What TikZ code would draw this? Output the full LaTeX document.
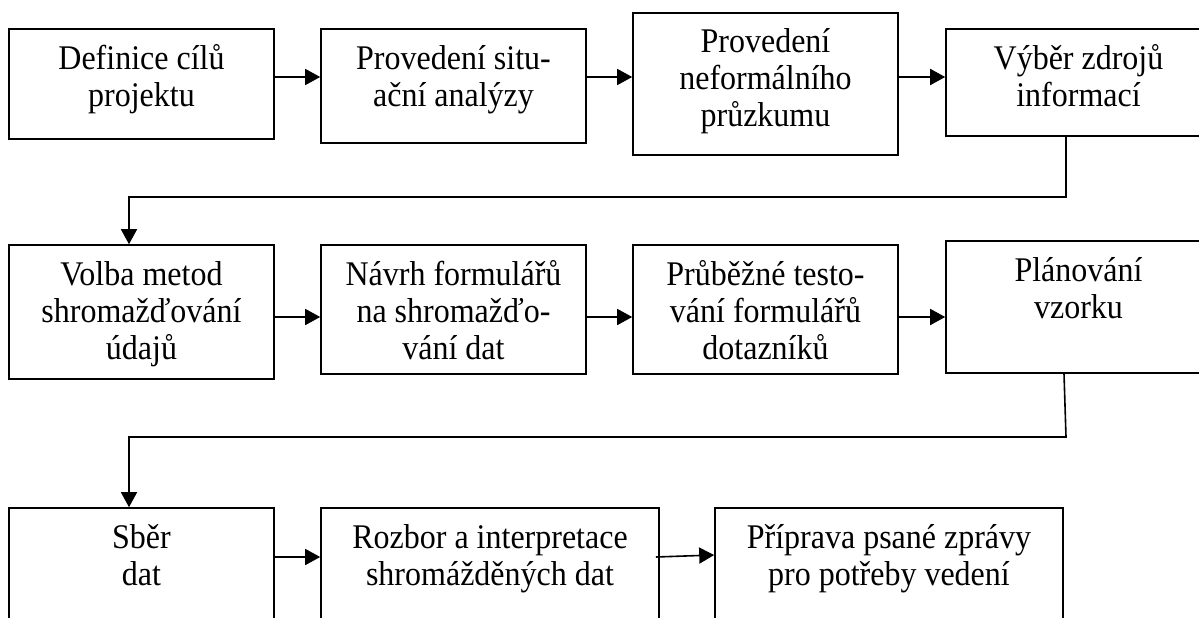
\documentclass[tikz,border=0pt]{standalone}
\usepackage{fontspec}
\usepackage{graphicx}
\setmainfont{Liberation Serif}
\usetikzlibrary{arrows.meta}

% box caption: centred lines, slightly tall letters
\newcommand{\boxlines}[1]{\scalebox{1}[1.08]{\begin{tabular}{@{}c@{}}#1\end{tabular}}}

\begin{document}
\begin{tikzpicture}[x=1pt,y=-1pt,
  box/.style={draw, line width=1.6pt, inner sep=0pt, minimum width=265pt},
  txt/.style={anchor=north, inner sep=0pt,
    font=\fontsize{32}{34.3}\selectfont},
  arr/.style={line width=1.6pt, -{Triangle[length=15pt,width=16pt]}}]
\useasboundingbox (0,0) rectangle (1199,618);
\clip (0,0) rectangle (1199,618);

% first row
\node[box, minimum height=110pt] (b1) at (141.5,84) {};
\node[box, minimum height=114pt] (b2) at (453.5,86) {};
\node[box, minimum height=142pt] (b3) at (765.5,84) {};
\node[box, minimum height=107pt] (b4) at (1078.5,82.5) {};

% second row
\node[box, minimum height=134pt] (b5) at (141.5,312) {};
\node[box, minimum height=129pt] (b6) at (453.5,309.5) {};
\node[box, minimum height=129pt] (b7) at (765.5,309.5) {};
\node[box, minimum height=132pt] (b8) at (1078.5,307) {};

% third row
\node[box, minimum height=140pt] (b9) at (141.5,578) {};
\node[box, minimum height=140pt, minimum width=338pt] (b10) at (490,578) {};
\node[box, minimum height=140pt, minimum width=348pt] (b11) at (889,578) {};

% captions
\node[txt] (t1) at ([yshift=-15.1pt]b1.north) {\boxlines{Definice cílů\\projektu}};
\node[txt] (t2) at ([yshift=-15.1pt]b2.north) {\boxlines{Provedení situ-\\ační analýzy}};
\node[txt] (t3) at ([yshift=-14.1pt]b3.north) {\boxlines{Provedení\\neformálního\\průzkumu}};
\node[txt] (t4) at ([yshift=-15.1pt]b4.north) {\boxlines{Výběr zdrojů\\informací}};
\node[txt] (t5) at ([yshift=-15.1pt]b5.north) {\boxlines{Volba metod\\shromažďování\\údajů}};
\node[txt] (t6) at ([yshift=-15.1pt]b6.north) {\boxlines{Návrh formulářů\\na shromažďo-\\vání dat}};
\node[txt] (t7) at ([yshift=-15.1pt]b7.north) {\boxlines{Průběžné testo-\\vání formulářů\\dotazníků}};
\node[txt] (t8) at ([yshift=-15.1pt]b8.north) {\boxlines{Plánování\\vzorku}};
\node[txt] (t9) at ([yshift=-15.1pt]b9.north) {\boxlines{Sběr\\dat}};
\node[txt] (t10) at ([yshift=-15.1pt]b10.north) {\boxlines{Rozbor a interpretace\\shromážděných dat}};
\node[txt] (t11) at ([yshift=-15.1pt]b11.north) {\boxlines{Příprava psané zprávy\\pro potřeby vedení}};

% heights of the horizontal arrows and bends of the return lines
\coordinate (r1) at (0,77);
\coordinate (r2) at (0,317);
\coordinate (r3) at (0,557);
\coordinate (r3b) at (0,555);
\coordinate (k1) at (1066,197);
\coordinate (k2) at (129,197);
\coordinate (k3) at (1066,437);
\coordinate (k4) at (129,437);

% arrows within rows
\draw[arr] (b1.east |- r1) -- (b2.west |- r1);
\draw[arr] (b2.east |- r1) -- (b3.west |- r1);
\draw[arr] (b3.east |- r1) -- (b4.west |- r1);
\draw[arr] (b5.east |- r2) -- (b6.west |- r2);
\draw[arr] (b6.east |- r2) -- (b7.west |- r2);
\draw[arr] (b7.east |- r2) -- (b8.west |- r2);
\draw[arr] (b9.east |- r3) -- (b10.west |- r3);
\draw[arr] ([xshift=-4pt]b10.east |- r3) -- (b11.west |- r3b);

% return lines to the next row
\draw[arr] (b4.south -| k1) -- (k1) -- (k2) -- (b5.north -| k2);
\draw[arr] ([xshift=-2pt]b8.south -| k3) -- (k3) -- (k4) -- (b9.north -| k4);
\end{tikzpicture}
\end{document}
